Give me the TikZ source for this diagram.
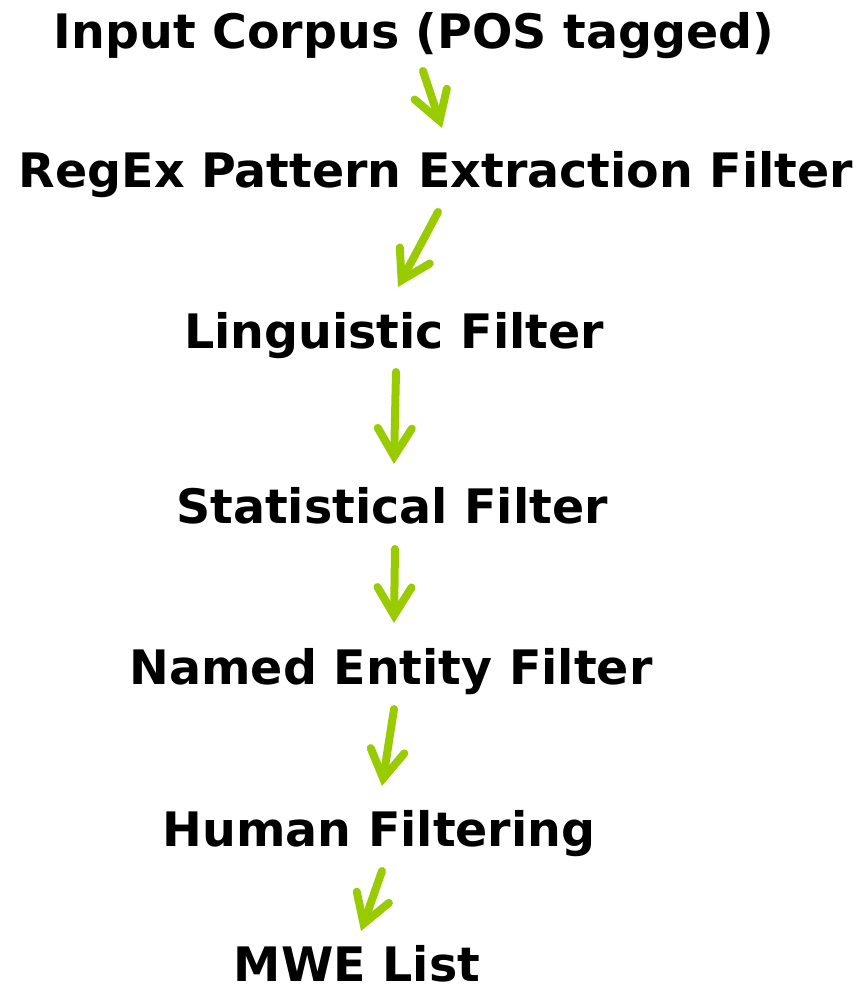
\documentclass[tikz,border=0pt]{standalone}
\usepackage{fontspec}
\setmainfont{DejaVu Sans}
\usetikzlibrary{arrows.meta}
\definecolor{flowgreen}{HTML}{99CC00}
\begin{document}
\begin{tikzpicture}[x=1pt,y=-1pt,
  stage/.style={anchor=base, inner sep=0pt, font=\fontsize{47.5}{57}\selectfont\bfseries},
  flow/.style={draw=flowgreen, line width=8pt, line cap=round,
    -{Straight Barb[length=28pt,width=34pt,line cap=round,line join=miter]}}]
  \useasboundingbox (0,0) rectangle (862,993);

  % pipeline stages, placed by their baselines
  \node[stage] (input) at (414,48)  {Input Corpus (POS tagged)};
  \node[stage] (regex) at (436,187) {RegEx Pattern Extraction Filter};
  \node[stage] (ling)  at (394,348) {Linguistic Filter};
  \node[stage] (stat)  at (392,523) {Statistical Filter};
  \node[stage] (ner)   at (391,684) {Named Entity Filter};
  \node[stage] (human) at (379,846) {Human Filtering};
  \node[stage] (mwe)   at (357,981) {MWE List};

  % arrow end points between the stages
  \coordinate (a1s) at (423,71);  \coordinate (a1e) at (442,128);
  \coordinate (a2s) at (438,212); \coordinate (a2e) at (398,287);
  \coordinate (a3s) at (396,372); \coordinate (a3e) at (394,464);
  \coordinate (a4s) at (395,549); \coordinate (a4e) at (394,623);
  \coordinate (a5s) at (394,709); \coordinate (a5e) at (382,786);
  \coordinate (a6s) at (382,871); \coordinate (a6e) at (361,931);

  \draw[flow] (a1s) -- (a1e);
  \draw[flow] (a2s) -- (a2e);
  \draw[flow] (a3s) -- (a3e);
  \draw[flow] (a4s) -- (a4e);
  \draw[flow] (a5s) -- (a5e);
  \draw[flow] (a6s) -- (a6e);
\end{tikzpicture}
\end{document}
